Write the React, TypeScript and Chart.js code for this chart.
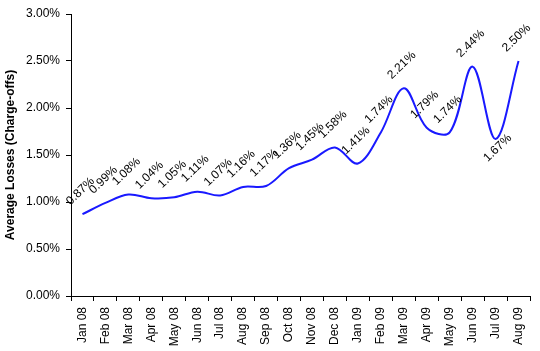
import React, { useEffect, useRef } from "react";
import { Chart, registerables } from "chart.js";

Chart.register(...registerables);

const categories = [
  "Jan 08", "Feb 08", "Mar 08", "Apr 08", "May 08", "Jun 08", "Jul 08", "Aug 08", "Sep 08", "Oct 08",
  "Nov 08", "Dec 08", "Jan 09", "Feb 09", "Mar 09", "Apr 09", "May 09", "Jun 09", "Jul 09", "Aug 09",
];
const losses = [
  0.87, 0.99, 1.08, 1.04, 1.05, 1.11, 1.07, 1.16, 1.17, 1.36,
  1.45, 1.58, 1.41, 1.74, 2.21, 1.79, 1.74, 2.44, 1.67, 2.5,
];
const labelBelow = [
  false, false, false, false, false, false, false, false, false, false,
  false, false, false, false, false, false, false, false, true, false,
];
const yTicks = [0, 0.5, 1, 1.5, 2, 2.5, 3];

const FONT = "'Liberation Sans', Arial, sans-serif";

const labelPlugin = {
  id: "rotLabels",
  afterDatasetsDraw(chart: any) {
    const ctx = chart.ctx;
    const meta = chart.getDatasetMeta(0);
    ctx.save();
    ctx.font = `12px ${FONT}`;
    ctx.fillStyle = "#000";
    ctx.textAlign = "center";
    ctx.textBaseline = "middle";
    meta.data.forEach((pt: any, i: number) => {
      const below = labelBelow[i];
      const x = pt.x + (below ? 2 : -2);
      const y = pt.y + (below ? 9 : -23);
      ctx.save();
      ctx.translate(x, y);
      ctx.rotate((-44 * Math.PI) / 180);
      ctx.fillText(losses[i].toFixed(2) + "%", 0, 0);
      ctx.restore();
    });
    ctx.restore();
  },
};

export default function App() {
  const ref = useRef<HTMLCanvasElement | null>(null);
  useEffect(() => {
    document.body.style.margin = "0";
    const chart = new Chart(ref.current as HTMLCanvasElement, {
      type: "line",
      data: {
        labels: categories,
        datasets: [
          {
            data: losses,
            borderColor: "rgb(25,25,255)",
            borderWidth: 2,
            pointRadius: 0,
            tension: 0.35,
            fill: false,
          },
        ],
      },
      options: {
        animation: false,
        responsive: false,
        layout: { padding: { top: 14, right: 10, left: 0, bottom: 0 } },
        plugins: { legend: { display: false }, tooltip: { enabled: false } },
        scales: {
          x: {
            offset: true,
            afterFit: (s: any) => {
              s.height = 55;
            },
            grid: { display: true, offset: true, drawOnChartArea: false, drawTicks: true, tickLength: 5, color: "#000" },
            border: { display: true, color: "#000", width: 1 },
            ticks: {
              autoSkip: false,
              minRotation: 90,
              maxRotation: 90,
              padding: 6,
              color: "#000",
              font: { family: FONT, size: 12 },
            },
          },
          y: {
            min: 0,
            max: 3,
            afterFit: (s: any) => {
              s.width = 71;
            },
            afterBuildTicks: (s: any) => {
              s.ticks = yTicks.map((v) => ({ value: v }));
            },
            grid: { display: true, drawOnChartArea: false, drawTicks: true, tickLength: 5, color: "#000" },
            border: { display: true, color: "#000", width: 1 },
            ticks: {
              padding: 6,
              color: "#000",
              font: { family: FONT, size: 12 },
              callback: (v: any) => Number(v).toFixed(2) + "%",
            },
            title: {
              display: true,
              text: "Average Losses (Charge-offs)",
              color: "#000",
              font: { family: FONT, size: 12, weight: "bold" },
              padding: { top: 3, bottom: 0 },
            },
          },
        },
      },
      plugins: [labelPlugin],
    } as any);
    return () => chart.destroy();
  }, []);
  return (
    <div style={{ position: "absolute", left: 0, top: 0, width: 540, height: 351 }}>
      <canvas ref={ref} width={540} height={351} style={{ width: 540, height: 351 }} />
    </div>
  );
}
